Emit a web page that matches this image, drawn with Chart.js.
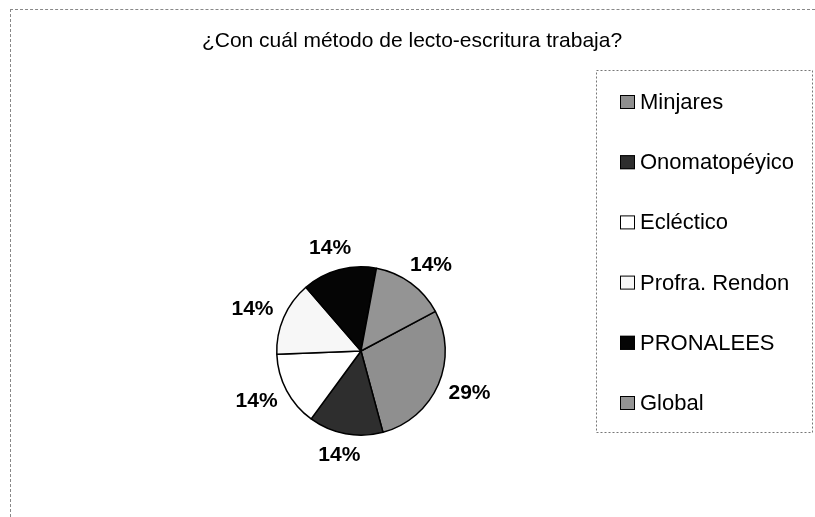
<!DOCTYPE html>
<html>
<head>
<meta charset="utf-8">
<script src="https://cdn.jsdelivr.net/npm/chart.js@4"></script>
<style>
  html, body { margin: 0; padding: 0; background: #fff; }
  #wrap { position: relative; width: 815px; height: 517px; }
  #frame { position: absolute; left: 10px; top: 9px; right: 0; bottom: 0;
           border-top: 1px dashed #888; border-left: 1px dashed #888; }
  canvas { position: absolute; left: 0; top: 0; }
</style>
</head>
<body>
<div id="wrap">
  <div id="frame"></div>
  <canvas id="pieChart" width="815" height="517"></canvas>
</div>
<script>
const chartTitle = "¿Con cuál método de lecto-escritura trabaja?";
const methods = ["Minjares", "Onomatopéyico", "Ecléctico", "Profra. Rendon", "PRONALEES", "Global"];
const teachers = [2, 1, 1, 1, 1, 1];
const sliceColors = ["#8f8f8f", "#2e2e2e", "#ffffff", "#f7f7f7", "#050505", "#949494"];

const FONT = "'Liberation Sans', Arial, sans-serif";

// title, legend and the % labels are drawn here
const overlay = {
  id: "overlay",
  afterDraw(chart) {
    const ctx = chart.ctx;
    ctx.save();
    ctx.fillStyle = "#000";
    ctx.textBaseline = "middle";

    ctx.font = "21px " + FONT;
    ctx.textAlign = "center";
    ctx.fillText(chartTitle, 412, 41);

    // percent labels outside the slices
    const meta = chart.getDatasetMeta(0);
    const total = teachers.reduce((a, b) => a + b, 0);
    ctx.font = "bold 21px " + FONT;
    meta.data.forEach((arc, i) => {
      const p = arc.getProps(["x", "y", "startAngle", "endAngle", "outerRadius"], true);
      const mid = (p.startAngle + p.endAngle) / 2;
      const ux = Math.cos(mid), uy = Math.sin(mid);
      const tx = p.x + ux * (p.outerRadius + 12 + 22);
      const ty = p.y + uy * (p.outerRadius + 12 + 10);
      ctx.fillText(Math.round(teachers[i] / total * 100) + "%", tx, ty);
    });

    // legend box
    ctx.strokeStyle = "#777";
    ctx.lineWidth = 1;
    ctx.setLineDash([2, 2]);
    ctx.strokeRect(596.5, 70.5, 216, 362);
    ctx.setLineDash([]);

    ctx.font = "22px " + FONT;
    ctx.textAlign = "left";
    const colors = chart.data.datasets[0].backgroundColor;
    chart.data.labels.forEach((lbl, i) => {
      const y = 102 + i * 60.2;
      ctx.fillStyle = colors[i];
      ctx.fillRect(620, y - 7, 15, 14);
      ctx.strokeStyle = "#000";
      ctx.strokeRect(620.5, y - 6.5, 14, 13);
      ctx.fillStyle = "#000";
      ctx.fillText(lbl, 640, y + 1);
    });
    ctx.restore();
  }
};

new Chart(document.getElementById("pieChart").getContext("2d"), {
  type: "pie",
  data: {
    labels: methods,
    datasets: [
      {
        data: teachers,
        backgroundColor: sliceColors,
        borderColor: "#000",
        borderWidth: 1.5,
      },
    ],
  },
  options: {
    responsive: false,
    animation: false,
    rotation: 62,
    layout: { padding: { left: 276, right: 369, top: 266, bottom: 81 } },
    plugins: {
      legend: { display: false },
      title: { display: false },
      tooltip: { enabled: false },
    },
  },
  plugins: [overlay],
});
</script>
</body>
</html>
